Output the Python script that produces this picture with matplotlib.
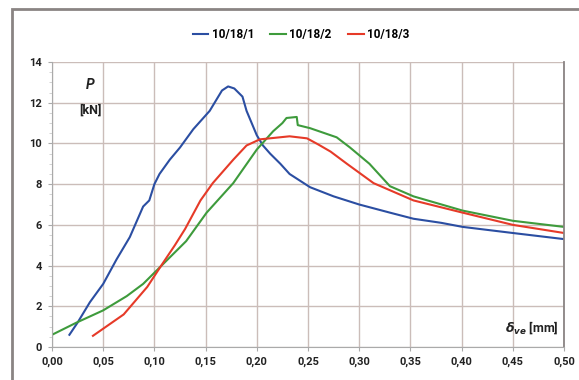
import matplotlib.pyplot as plt
from matplotlib.ticker import FuncFormatter, MultipleLocator
from matplotlib.patches import Rectangle

# readings taken off the reference curves
x1 = [0.017, 0.025, 0.037, 0.050, 0.063, 0.076, 0.089, 0.095, 0.100, 0.105, 0.115, 0.125,
      0.138, 0.154, 0.166, 0.172, 0.178, 0.186, 0.190, 0.200, 0.206, 0.213, 0.223, 0.232,
      0.252, 0.275, 0.300, 0.330, 0.353, 0.380, 0.401, 0.450, 0.500]
y1 = [0.6, 1.2, 2.2, 3.1, 4.3, 5.4, 6.9, 7.2, 8.0, 8.5, 9.2, 9.8,
      10.7, 11.6, 12.6, 12.8, 12.7, 12.3, 11.6, 10.4, 9.9, 9.5, 9.0, 8.5,
      7.85, 7.4, 7.0, 6.6, 6.3, 6.1, 5.9, 5.6, 5.3]

x2 = [0.000, 0.024, 0.050, 0.073, 0.089, 0.105, 0.131, 0.151, 0.177, 0.200, 0.216, 0.225,
      0.229, 0.239, 0.240, 0.252, 0.278, 0.291, 0.310, 0.330, 0.353, 0.401, 0.450, 0.500]
y2 = [0.6, 1.2, 1.8, 2.5, 3.1, 3.9, 5.2, 6.6, 8.05, 9.7, 10.6, 11.0,
      11.25, 11.3, 10.9, 10.75, 10.3, 9.8, 9.0, 7.9, 7.4, 6.7, 6.2, 5.9]

x3 = [0.040, 0.050, 0.070, 0.093, 0.108, 0.120, 0.130, 0.145, 0.157, 0.177, 0.190, 0.203,
      0.232, 0.249, 0.260, 0.272, 0.288, 0.314, 0.353, 0.401, 0.450, 0.500]
y3 = [0.55, 0.9, 1.6, 2.95, 4.1, 5.0, 5.8, 7.2, 8.05, 9.2, 9.9, 10.2,
      10.35, 10.25, 9.95, 9.6, 9.0, 8.05, 7.2, 6.6, 6.0, 5.6]

labels = ['10/18/1', '10/18/2', '10/18/3']
colors = ['#2b4ea2', '#3e9b3c', '#e63a28']

plt.rcParams['font.family'] = ['Roboto', 'DejaVu Sans']
plt.rcParams['font.weight'] = 'bold'
plt.rcParams['mathtext.fontset'] = 'custom'
plt.rcParams['mathtext.bfit'] = 'DejaVu Sans:bold:italic'

fig = plt.figure(figsize=(5.79, 3.8), dpi=100)
fig.patches.append(Rectangle((12 / 579, -0.05), 1.1, (371 / 380) + 0.05, transform=fig.transFigure,
                             fill=False, edgecolor='#8a8483', linewidth=2))
ax = fig.add_axes([52 / 579, 33 / 380, 512 / 579, 285 / 380])

for xs, ys, lab, c in zip([x1, x2, x3], [y1, y2, y3], labels, colors):
    ax.plot(xs, ys, color=c, linewidth=1.5, label=lab)

ax.set_xlim(0, 0.5)
ax.set_ylim(0, 14)
ax.xaxis.set_major_locator(MultipleLocator(0.05))
ax.yaxis.set_major_locator(MultipleLocator(2))
ax.yaxis.set_minor_locator(MultipleLocator(0.5))
ax.xaxis.set_major_formatter(FuncFormatter(lambda v, p: f'{v:.2f}'.replace('.', ',')))
ax.yaxis.set_major_formatter(FuncFormatter(lambda v, p: f'{v:.0f}'))
ax.grid(True, color='#cbbdb9', linewidth=1)
ax.tick_params(labelsize=8, length=3, color='#aaaaaa', pad=4, labelcolor='#222222')
ax.tick_params(which='minor', length=2, color='#cccccc')
for s in ['left', 'bottom']:
    ax.spines[s].set_color('#aaaaaa')
ax.spines['top'].set_visible(False)
ax.spines['right'].set_color('#8a8483')
ax.spines['right'].set_linewidth(1.3)

ax.text(0.075, 0.905, 'P', transform=ax.transAxes, ha='center', fontsize=10,
        fontweight='bold', fontstyle='italic', color='#222222')
ax.text(0.075, 0.82, '[kN]', transform=ax.transAxes, ha='center', fontsize=9,
        fontweight='bold', color='#222222')
ax.text(0.99, 0.055, r'$\mathbfit{\delta_{ve}}$ [mm]', transform=ax.transAxes, ha='right',
        fontsize=9, fontweight='bold', color='#222222')

fig.legend(loc='upper center', bbox_to_anchor=(0.52, 0.955), ncol=3, frameon=False,
           prop={'size': 8.5, 'weight': 'bold'}, handlelength=1.3, handletextpad=0.3,
           columnspacing=1.4)

fig.savefig('out.png', dpi=100)
